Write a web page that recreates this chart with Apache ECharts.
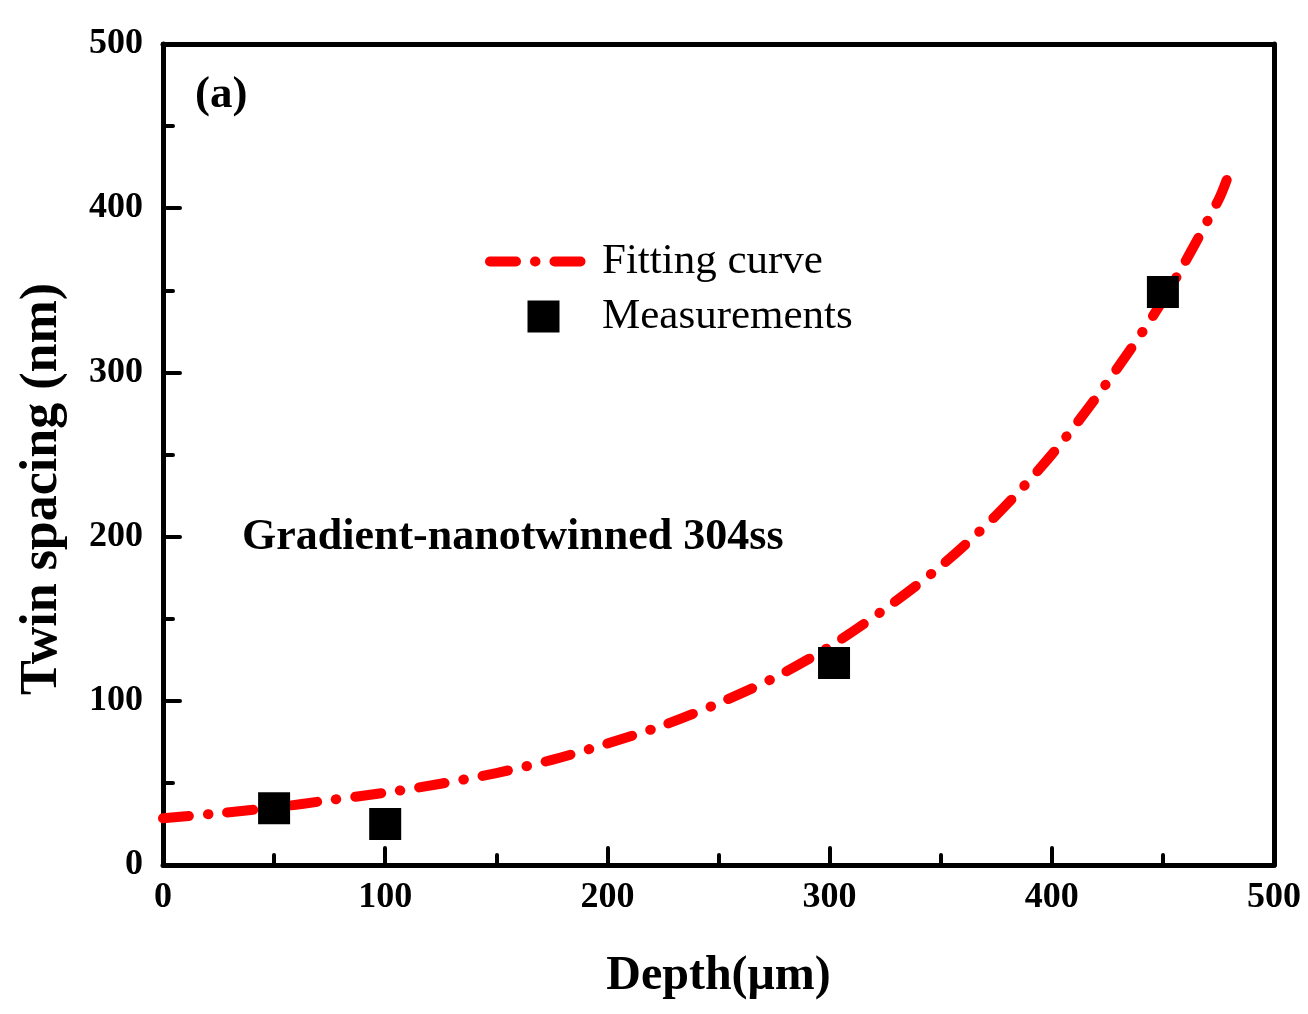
<!DOCTYPE html>
<html>
<head>
<meta charset="utf-8">
<title>Twin spacing vs depth</title>
<script src="https://cdn.jsdelivr.net/npm/echarts@6/dist/echarts.min.js"></script>
<style>
  html, body { margin: 0; padding: 0; background: #fff; }
  #chart { width: 1308px; height: 1014px; }
</style>
</head>
<body>
<div id="chart"></div>
<script>
'use strict';

// fitting curve
const fitDepth = [0, 25, 50, 75, 100, 125, 150, 175, 200, 225, 250, 275, 300, 325, 350, 375, 400, 425, 450, 475, 480];
const fitSpacing = [28.5, 31.5, 35, 39.5, 44, 49.5, 56, 64, 74, 85, 98.5, 114, 133, 156, 182, 213, 250, 294, 344, 405, 422];

// measured points
const measDepth = [50, 100, 302, 450];
const measSpacing = [34.5, 25, 123, 349];

const xTicks = [0, 100, 200, 300, 400, 500];
const yTicks = [0, 100, 200, 300, 400, 500];

const FONT = "'Liberation Serif', 'Times New Roman', serif";
const RED = '#ff0000';
const DASH_DOT = [26, 19, 0.5, 19];

function pairs(xs, ys) {
    return xs.map((x, i) => [x, ys[i]]);
}

const chart = echarts.init(document.getElementById('chart'));

const axisLine = { show: true, onZero: false, lineStyle: { color: '#000', width: 5 } };
const fitLine = { color: RED, width: 10, type: DASH_DOT, cap: 'round', join: 'round' };

chart.setOption({
    backgroundColor: '#fff',
    animation: false,
    grid: { left: 163, right: 34, top: 44, bottom: 149, containLabel: false },
    legend: {
        orient: 'vertical',
        left: 485,
        top: 240,
        padding: 0,
        itemWidth: 107,
        itemHeight: 32,
        itemGap: 12,
        selectedMode: false,
        textStyle: { fontFamily: FONT, fontSize: 43, color: '#000' },
        data: [
            { name: 'Fitting curve', itemStyle: { opacity: 0 }, lineStyle: fitLine },
            { name: 'Measurements', icon: 'path://M0,0H1V1H0Z', itemStyle: { color: '#000', opacity: 1 } }
        ]
    },
    xAxis: [{
        type: 'value',
        min: xTicks[0],
        max: xTicks[xTicks.length - 1],
        interval: xTicks[1] - xTicks[0],
        name: 'Depth(μm)',
        nameLocation: 'middle',
        nameGap: 88,
        nameTextStyle: { fontFamily: FONT, fontSize: 48, fontWeight: 'bold', color: '#000' },
        axisLine: axisLine,
        axisTick: { show: true, inside: true, length: 17, lineStyle: { color: '#000', width: 4, cap: 'round' } },
        minorTick: { show: true, splitNumber: 2, length: 10, lineStyle: { color: '#000', width: 4, cap: 'round' } },
        axisLabel: { margin: 15, fontFamily: FONT, fontSize: 36, fontWeight: 'bold', color: '#000' },
        splitLine: { show: false }
    }, {
        type: 'value',
        position: 'top',
        min: 0, max: 500, interval: 50,
        axisLine: axisLine,
        axisTick: { show: true, inside: false, length: 2, lineStyle: { color: '#000', width: 2 } },
        axisLabel: { show: false },
        splitLine: { show: false }
    }],
    yAxis: [{
        type: 'value',
        min: yTicks[0],
        max: yTicks[yTicks.length - 1],
        interval: yTicks[1] - yTicks[0],
        axisLine: axisLine,
        axisTick: { show: true, inside: true, length: 17, lineStyle: { color: '#000', width: 4, cap: 'round' } },
        minorTick: { show: true, splitNumber: 2, length: 10, lineStyle: { color: '#000', width: 4, cap: 'round' } },
        axisLabel: { margin: 20, fontFamily: FONT, fontSize: 36, fontWeight: 'bold', color: '#000' },
        splitLine: { show: false }
    }, {
        type: 'value',
        position: 'right',
        min: 0, max: 500, interval: 50,
        axisLine: axisLine,
        axisTick: { show: true, inside: false, length: 2, lineStyle: { color: '#000', width: 2 } },
        axisLabel: { show: false },
        splitLine: { show: false }
    }],
    graphic: [{
        type: 'text',
        x: 43,
        y: 489,
        rotation: Math.PI / 2,
        style: {
            text: 'Twin spacing (nm)',
            fontFamily: FONT, fontSize: 52, fontWeight: 'bold', fill: '#000',
            align: 'center', verticalAlign: 'middle'
        }
    }, {
        type: 'text',
        x: 195,
        y: 95,
        style: {
            text: '(a)', fontFamily: FONT, fontSize: 45, fontWeight: 'bold', fill: '#000',
            align: 'left', verticalAlign: 'middle'
        }
    }, {
        type: 'text',
        x: 242,
        y: 538,
        style: {
            text: 'Gradient-nanotwinned 304ss', fontFamily: FONT, fontSize: 44, fontWeight: 'bold', fill: '#000',
            align: 'left', verticalAlign: 'middle'
        }
    }],
    series: [{
        name: 'Fitting curve',
        type: 'line',
        xAxisIndex: 0,
        yAxisIndex: 0,
        data: pairs(fitDepth, fitSpacing),
        smooth: 0.3,
        symbol: 'none',
        lineStyle: fitLine,
        z: 2
    }, {
        name: 'Measurements',
        type: 'scatter',
        xAxisIndex: 0,
        yAxisIndex: 0,
        data: pairs(measDepth, measSpacing),
        symbol: 'rect',
        symbolSize: 32,
        itemStyle: { color: '#000', opacity: 1 },
        z: 3
    }]
});
</script>
</body>
</html>
